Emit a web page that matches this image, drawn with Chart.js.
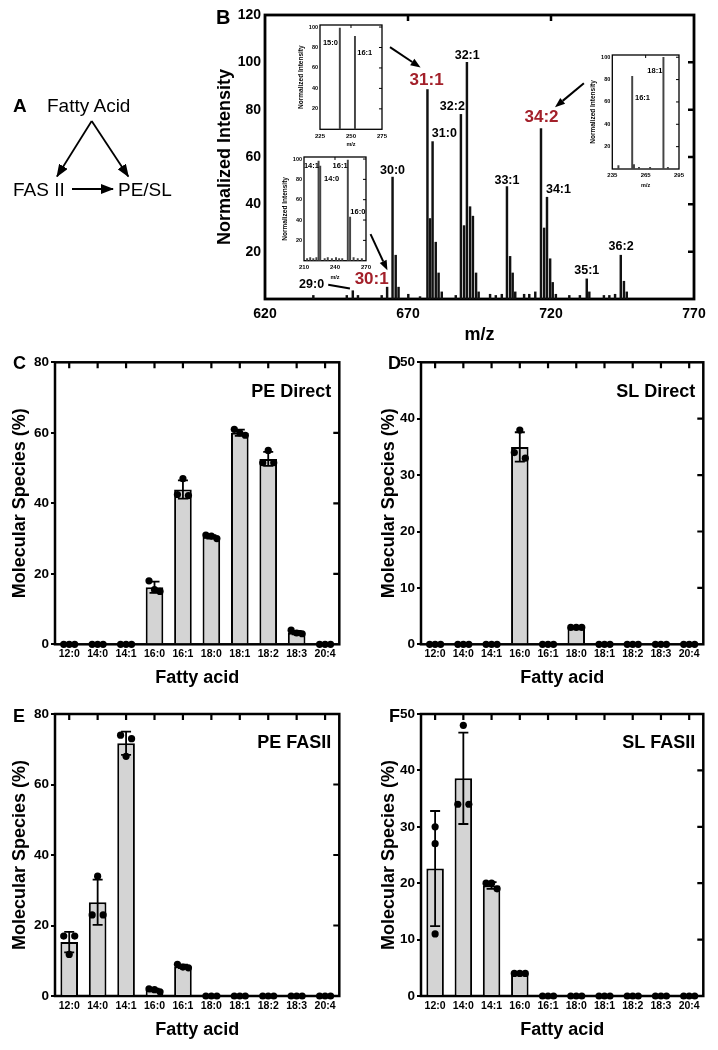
<!DOCTYPE html>
<html>
<head>
<meta charset="utf-8">
<script src="https://cdn.jsdelivr.net/npm/chart.js@4.4.1/dist/chart.umd.min.js"></script>
<style>
body { margin: 0; background: #fff; }
#fig { position: relative; width: 718px; height: 1050px; overflow: hidden; font-family: 'Liberation Sans', Arial, Helvetica, sans-serif; }
canvas { position: absolute; }
#overlay { position: absolute; left: 0; top: 0; pointer-events: none; }
</style>
</head>
<body>
<div id="fig">
  <canvas id="specB" width="518" height="346" style="left:200px;top:0"></canvas>
  <canvas id="ins1" width="100" height="135" style="left:290px;top:18px"></canvas>
  <canvas id="ins2" width="100" height="135" style="left:274px;top:150px"></canvas>
  <canvas id="ins3" width="105" height="145" style="left:582px;top:48px"></canvas>
  <canvas id="peDirect" width="360" height="360" style="left:0;top:330px"></canvas>
  <canvas id="slDirect" width="358" height="360" style="left:360px;top:330px"></canvas>
  <canvas id="peFas" width="360" height="360" style="left:0;top:690px"></canvas>
  <canvas id="slFas" width="358" height="360" style="left:360px;top:690px"></canvas>

  <svg id="overlay" width="718" height="1050" font-family="'Liberation Sans', Arial, Helvetica, sans-serif">
    <defs>
      <marker id="ah" markerWidth="13" markerHeight="10" refX="12" refY="5" orient="auto" markerUnits="userSpaceOnUse">
        <path d="M0,0 L13,5 L0,10 Z" fill="#000"/>
      </marker>
    </defs>
    <!-- panel A -->
    <text x="13" y="112" font-size="19" font-weight="bold">A</text>
    <text x="47" y="112" font-size="19">Fatty Acid</text>
    <line x1="91.7" y1="121" x2="57" y2="176.5" stroke="#000" stroke-width="1.8" marker-end="url(#ah)"/>
    <line x1="91.7" y1="121" x2="128.3" y2="176.5" stroke="#000" stroke-width="1.8" marker-end="url(#ah)"/>
    <text x="13" y="196" font-size="19">FAS II</text>
    <line x1="72" y1="189" x2="113" y2="189" stroke="#000" stroke-width="1.8" marker-end="url(#ah)"/>
    <text x="118" y="196" font-size="19">PE/SL</text>
    <!-- panel letters -->
    <text x="216" y="24" font-size="20" font-weight="bold">B</text>
    <text x="13" y="369" font-size="18" font-weight="bold">C</text>
    <text x="388" y="369" font-size="18" font-weight="bold">D</text>
    <text x="13" y="722" font-size="18" font-weight="bold">E</text>
    <text x="389" y="722" font-size="18" font-weight="bold">F</text>
  </svg>
</div>

<script>
// ---------- Panel B: mass spectrum ----------
const specMz  = [636.9, 648.6, 650.7, 652.5, 660.8, 662.7, 664.6, 665.7, 666.7, 670.1,
                 674.2, 676.8, 677.7, 678.6, 679.7, 680.7, 681.8, 686.7, 688.5, 689.6,
                 690.6, 691.7, 692.7, 693.8, 694.7, 698.7, 700.7, 702.8, 704.6, 705.7,
                 706.6, 707.5, 710.6, 712.4, 714.5, 716.5, 717.6, 718.6, 719.7, 720.6,
                 721.7, 726.4, 730.1, 732.5, 733.4, 738.5, 740.4, 742.4, 744.4, 745.5, 746.5];
const specInt = [1.5, 1.5, 3.5, 1.5, 1.5, 5, 51.5, 18.5, 5, 2,
                 1, 88.5, 34, 66.5, 24, 11, 3, 1.5, 78, 31,
                 100, 39, 35, 11, 3, 2, 1.5, 2, 47.5, 18,
                 11, 3, 2, 2, 3, 72, 30, 43, 17, 7,
                 2, 1.5, 1.5, 8.5, 3, 1.5, 1.5, 2, 18.5, 7.5, 3];

// peak annotations (m/z, intensity anchors)
const tagText = ['29:0', '30:0', '31:0', '32:2', '32:1', '33:1', '34:1', '35:1', '36:2'];
const tagMz   = [636.3, 664.6, 682.7, 685.5, 690.7, 704.6, 722.6, 732.5, 744.5];
const tagY    = [6.0, 54.2, 69.8, 81.3, 103, 50.2, 46.4, 12.1, 22.2];
const hiText  = ['31:1', '34:2', '30:1'];
const hiMz    = [676.5, 716.7, 657.3];
const hiY     = [92.6, 76.8, 8.2];
const arrowFrom = [[663.7, 106.4], [731.5, 91.2], [656.9, 27.4]];
const arrowTo   = [[674.4, 97.8], [721.4, 81.0], [662.8, 12.1]];
const leader29  = [[642.1, 6.0], [649.7, 4.4]];

// insets
const ins1Mz  = [241.0, 253.2];
const ins1Int = [99, 91];
const ins1Tags = ['15:0', '16:1'];
const ins1TagMz = [233.4, 261.1];
const ins1TagY  = [84, 74.5];

const ins2Mz  = [213, 216, 219, 222, 224.1, 225.7, 230, 233, 237, 241, 244, 247, 252.4, 254.6, 258, 262, 266];
const ins2Int = [2, 3, 2, 3, 98, 93, 2, 3, 2, 3, 2, 2, 99, 43, 3, 2, 2];
const ins2Tags = ['14:1', '14:0', '16:1', '16:0'];
const ins2TagMz = [217.2, 236.7, 244.9, 262.1];
const ins2TagY  = [93.4, 80, 93.4, 47.5];

const ins3Mz  = [240.5, 252.9, 254.5, 259, 269, 281, 285];
const ins3Int = [3, 83, 4, 1.5, 1.5, 100, 1.5];
const ins3Tags = ['16:1', '18:1'];
const ins3TagMz = [262.2, 273.3];
const ins3TagY  = [63.2, 88];

// ---------- Panels C-F: fatty acid composition ----------
const fattyAcids = ['12:0', '14:0', '14:1', '16:0', '16:1', '18:0', '18:1', '18:2', '18:3', '20:4'];

const peDirectMean = [0, 0, 0, 16.2, 43.9, 30.5, 60.0, 52.6, 3.3, 0];
const peDirectSd   = [0, 0, 0, 1.6, 2.6, 0.5, 0.9, 2.0, 0.5, 0];
const peDirectReps = [[0,0,0], [0,0,0], [0,0,0], [18,15.5,15], [47,42.5,42.2],
                      [31,30.7,30], [61,60,59.3], [55,51.5,51.5], [4,3.2,3], [0,0,0]];

const slDirectMean = [0, 0, 0, 35.0, 0, 3.0, 0, 0, 0, 0];
const slDirectSd   = [0, 0, 0, 2.6, 0, 0.1, 0, 0, 0, 0];
const slDirectReps = [[0,0,0], [0,0,0], [0,0,0], [38,34,33], [0,0,0],
                      [3,3,3], [0,0,0], [0,0,0], [0,0,0], [0,0,0]];

const peFasMean = [15.3, 26.6, 71.7, 1.7, 8.4, 0, 0, 0, 0, 0];
const peFasSd   = [2.9, 6.4, 3.3, 0.4, 0.5, 0, 0, 0, 0, 0];
const peFasReps = [[17,17,11.8], [34,23,23], [74,73,68], [2,1.8,1.2], [9,8.2,8],
                   [0,0,0], [0,0,0], [0,0,0], [0,0,0], [0,0,0]];

const slFasMean = [22.6, 38.6, 19.6, 4.0, 0, 0, 0, 0, 0, 0];
const slFasSd   = [10.2, 8.1, 0.6, 0.1, 0, 0, 0, 0, 0, 0];
const slFasReps = [[30,27,11], [48,34,34], [20,20,19], [4,4,4], [0,0,0],
                   [0,0,0], [0,0,0], [0,0,0], [0,0,0], [0,0,0]];

// ---------- shared setup ----------
const FONT = "'Liberation Sans', Arial, Helvetica, sans-serif";
Chart.defaults.font.family = FONT;
Chart.defaults.color = '#000';
Chart.defaults.animation = false;

// box frame + mirrored inward ticks on top and right
const framePlugin = {
    id: 'frame',
    beforeDatasetsDraw(chart, args, opts) {
        const {ctx, chartArea: a} = chart;
        const xs = chart.scales.x, ys = chart.scales.y;
        ctx.save();
        ctx.strokeStyle = '#000';
        ctx.lineWidth = opts.tickWidth;
        ctx.beginPath();
        xs.ticks.forEach((t, i) => {
            const px = xs.getPixelForTick(i);
            if (px < a.left + 2 || px > a.right - 2) return;
            ctx.moveTo(px, a.top); ctx.lineTo(px, a.top + opts.len);
        });
        ys.ticks.forEach((t, i) => {
            const py = ys.getPixelForTick(i);
            if (py < a.top + 2 || py > a.bottom - 2) return;
            ctx.moveTo(a.right, py); ctx.lineTo(a.right - opts.len, py);
        });
        ctx.stroke();
        ctx.lineWidth = opts.width;
        ctx.strokeRect(a.left, a.top, a.right - a.left, a.bottom - a.top);
        ctx.restore();
    }
};

function arrow(ctx, x0, y0, x1, y1, head) {
    const ang = Math.atan2(y1 - y0, x1 - x0);
    const bx = x1 - head * Math.cos(ang), by = y1 - head * Math.sin(ang);
    ctx.beginPath(); ctx.moveTo(x0, y0); ctx.lineTo(bx, by); ctx.stroke();
    ctx.beginPath();
    ctx.moveTo(x1, y1);
    ctx.lineTo(bx + head * 0.38 * Math.sin(ang), by - head * 0.38 * Math.cos(ang));
    ctx.lineTo(bx - head * 0.38 * Math.sin(ang), by + head * 0.38 * Math.cos(ang));
    ctx.closePath(); ctx.fill();
}

// labels and arrows on the spectrum
const specNotes = {
    id: 'specNotes',
    afterDraw(chart) {
        const {ctx} = chart;
        const xs = chart.scales.x, ys = chart.scales.y;
        const px = v => xs.getPixelForValue(v), py = v => ys.getPixelForValue(v);
        ctx.save();
        ctx.textAlign = 'center'; ctx.textBaseline = 'middle';
        ctx.fillStyle = '#000';
        ctx.font = 'bold 12.5px ' + FONT;
        tagText.forEach((t, i) => ctx.fillText(t, px(tagMz[i]), py(tagY[i])));
        ctx.fillStyle = '#a3202a';
        ctx.font = 'bold 17px ' + FONT;
        hiText.forEach((t, i) => ctx.fillText(t, px(hiMz[i]), py(hiY[i])));
        ctx.strokeStyle = '#000'; ctx.fillStyle = '#000'; ctx.lineWidth = 2;
        arrowFrom.forEach((f, i) => arrow(ctx, px(f[0]), py(f[1]), px(arrowTo[i][0]), py(arrowTo[i][1]), 10));
        ctx.beginPath();
        ctx.moveTo(px(leader29[0][0]), py(leader29[0][1]));
        ctx.lineTo(px(leader29[1][0]), py(leader29[1][1]));
        ctx.stroke();
        ctx.restore();
    }
};

new Chart('specB', {
    type: 'bar',
    data: {
        datasets: [{
            data: specMz.map((m, i) => ({x: m, y: specInt[i]})),
            backgroundColor: '#111',
            barThickness: 1.8,
            borderWidth: 0
        }]
    },
    options: {
        responsive: false,
        animation: false,
        layout: {padding: {left: 0, top: 15, right: 24, bottom: 0}},
        plugins: {legend: {display: false}, tooltip: {enabled: false}, frame: {width: 2.8, tickWidth: 2.5, len: 6}},
        scales: {
            x: {
                type: 'linear', min: 620, max: 770, offset: false,
                grid: {display: false, drawTicks: false, offset: false}, border: {display: false},
                ticks: {stepSize: 50, font: {size: 14, weight: 'bold'}, padding: 7},
                title: {display: true, text: 'm/z', font: {size: 18, weight: 'bold'}, padding: {top: 0, bottom: 0}},
                afterFit: s => { s.height = 47; }
            },
            y: {
                min: 0, max: 120,
                grid: {display: false, drawTicks: false}, border: {display: false},
                ticks: {stepSize: 20, font: {size: 14, weight: 'bold'}, padding: 4, callback: v => v === 0 ? '' : v},
                title: {display: true, text: 'Normalized Intensity', font: {size: 18, weight: 'bold'}, padding: {top: 14, bottom: 0}},
                afterFit: s => { s.width = 65; }
            }
        }
    },
    plugins: [framePlugin, specNotes]
});

function insetChart(id, mz, inten, xMin, xMax, xStep, tags, tMz, tY, lay) {
    const cv = document.getElementById(id);
    const notes = {
        id: 'insNotes',
        afterDraw(chart) {
            const {ctx} = chart;
            ctx.save();
            ctx.textAlign = 'center'; ctx.textBaseline = 'middle';
            ctx.font = 'bold 7.5px ' + FONT;
            ctx.fillStyle = '#000';
            tags.forEach((t, i) => ctx.fillText(t, chart.scales.x.getPixelForValue(tMz[i]), chart.scales.y.getPixelForValue(tY[i])));
            ctx.restore();
        }
    };
    new Chart(cv, {
        type: 'bar',
        data: {datasets: [{data: mz.map((m, i) => ({x: m, y: inten[i]})), backgroundColor: '#444', barThickness: 1.3, borderWidth: 0}]},
        options: {
            responsive: false,
            animation: false,
            layout: {padding: {left: 0, top: lay.T, right: lay.rp, bottom: 0}},
            plugins: {legend: {display: false}, tooltip: {enabled: false}, frame: {width: 1.3, tickWidth: 1, len: 3}},
            scales: {
                x: {
                    type: 'linear', min: xMin, max: xMax, offset: false,
                    grid: {display: false, drawTicks: false, offset: false}, border: {display: false},
                    ticks: {stepSize: xStep, font: {size: 6, weight: 'bold'}, padding: 3},
                    title: {display: true, text: 'm/z', font: {size: 5.5, weight: 'bold'}, padding: {top: 0, bottom: lay.xtPad}},
                    afterFit: s => { s.height = lay.xh; }
                },
                y: {
                    min: 0, max: 102,
                    grid: {display: false, drawTicks: false}, border: {display: false},
                    ticks: {stepSize: 20, includeBounds: false, font: {size: 5.5, weight: 'bold'}, padding: 2, callback: v => v === 0 ? '' : v},
                    title: {display: true, text: 'Normalized Intensity', font: {size: 6.5, weight: 'bold'}, padding: {top: lay.ytPad, bottom: 0}},
                    afterFit: s => { s.width = lay.L; }
                }
            }
        },
        plugins: [framePlugin, notes]
    });
}

insetChart('ins1', ins1Mz, ins1Int, 225, 275, 25, ins1Tags, ins1TagMz, ins1TagY,
    {L: 30, T: 7, rp: 6.7, xh: 23.7, xtPad: 5, ytPad: 7.5});
insetChart('ins2', ins2Mz, ins2Int, 210, 270, 30, ins2Tags, ins2TagMz, ins2TagY,
    {L: 30, T: 7, rp: 6.3, xh: 24.3, xtPad: 4.6, ytPad: 7.8});
insetChart('ins3', ins3Mz, ins3Int, 235, 295, 30, ins3Tags, ins3TagMz, ins3TagY,
    {L: 30.3, T: 7, rp: 6.3, xh: 24, xtPad: 4.3, ytPad: 7.1});

// bar + SD + individual replicates
function barPanel(id, name, mean, sd, reps, yMax, yStep, lay) {
    const cv = document.getElementById(id);
    const W = cv.width, H = cv.height;
    const plotH = lay.B - lay.T;
    const tol = 9 * yMax / plotH;     // replicates closer than ~9px are spread sideways
    const unit = 5.5 / ((lay.R - lay.L) / fattyAcids.length);
    const dots = [];
    reps.forEach((r, i) => {
        const s = r.slice().sort((a, b) => b - a);
        const groups = [];
        let cur = [s[0]];
        for (let k = 1; k < s.length; k++) {
            if (cur[cur.length - 1] - s[k] < tol) cur.push(s[k]);
            else { groups.push(cur); cur = [s[k]]; }
        }
        groups.push(cur);
        groups.forEach(g => g.forEach((v, k) => {
            const off = g.length === 1 ? 0 : (g.length === 2 ? (k === 0 ? -1 : 1) : k - 1);
            dots.push({x: i + off * unit, y: v});
        }));
    });

    const errBars = {
        id: 'errBars',
        afterDatasetDraw(chart, args) {
            if (args.index !== 0) return;
            const {ctx} = chart, ys = chart.scales.y;
            const meta = chart.getDatasetMeta(0);
            ctx.save();
            ctx.strokeStyle = '#000'; ctx.lineWidth = 1.8;
            sd.forEach((s, i) => {
                if (!s) return;
                const x = meta.data[i].x;
                const hi = ys.getPixelForValue(mean[i] + s), lo = ys.getPixelForValue(Math.max(0, mean[i] - s));
                ctx.beginPath();
                ctx.moveTo(x, hi); ctx.lineTo(x, lo);
                ctx.moveTo(x - 5, hi); ctx.lineTo(x + 5, hi);
                ctx.moveTo(x - 5, lo); ctx.lineTo(x + 5, lo);
                ctx.stroke();
            });
            ctx.restore();
        },
        afterDraw(chart) {
            const {ctx, chartArea: a} = chart;
            ctx.save();
            ctx.font = 'bold 18px ' + FONT;
            ctx.textAlign = 'right'; ctx.textBaseline = 'middle';
            ctx.fillStyle = '#000';
            ctx.fillText(name, a.right - 8, a.top + 29.5);
            ctx.restore();
        }
    };

    new Chart(cv, {
        type: 'bar',
        data: {
            labels: fattyAcids,
            datasets: [
                {data: mean, backgroundColor: '#d4d4d4', borderColor: '#000', borderWidth: 2,
                 barPercentage: 0.62, categoryPercentage: 1, grouped: false, order: 2},
                {type: 'line', data: dots, xAxisID: 'xj', showLine: false, pointRadius: 3.6,
                 pointBackgroundColor: '#000', pointBorderWidth: 0, clip: false, order: 1}
            ]
        },
        options: {
            responsive: false,
            animation: false,
            layout: {padding: {left: 0, top: lay.T, right: W - lay.R, bottom: 0}},
            plugins: {legend: {display: false}, tooltip: {enabled: false}, frame: {width: 2.5, tickWidth: 2.2, len: 6}},
            scales: {
                x: {
                    grid: {display: false, drawTicks: false}, border: {display: false},
                    ticks: {font: {size: 10.5, weight: 'bold'}, padding: 4, autoSkip: false, maxRotation: 0},
                    title: {display: true, text: 'Fatty acid', font: {size: 18, weight: 'bold'}, padding: {top: 0, bottom: lay.xtPad}},
                    afterFit: s => { s.height = H - lay.B; }
                },
                xj: {type: 'linear', display: false, offset: false, min: -0.5, max: fattyAcids.length - 0.5},
                y: {
                    min: 0, max: yMax,
                    grid: {display: true, drawOnChartArea: false, drawTicks: true, tickLength: 4, color: '#000', lineWidth: 2},
                    border: {display: false},
                    ticks: {stepSize: yStep, font: {size: 13.5, weight: 'bold'}, padding: 2},
                    title: {display: true, text: 'Molecular Species (%)', font: {size: 18, weight: 'bold'}, padding: {top: lay.ytPad, bottom: 0}},
                    afterFit: s => { s.width = lay.L; }
                }
            }
        },
        plugins: [framePlugin, errBars]
    });
}

barPanel('peDirect', 'PE Direct', peDirectMean, peDirectSd, peDirectReps, 80, 20,
    {L: 55, T: 32.3, R: 339.3, B: 314.3, xtPad: 0.9, ytPad: 9.7});
barPanel('slDirect', 'SL Direct', slDirectMean, slDirectSd, slDirectReps, 50, 10,
    {L: 61, T: 32.3, R: 343.3, B: 314.3, xtPad: 0.9, ytPad: 18});
barPanel('peFas', 'PE FASII', peFasMean, peFasSd, peFasReps, 80, 20,
    {L: 55, T: 24, R: 339.3, B: 306, xtPad: 9.2, ytPad: 9.7});
barPanel('slFas', 'SL FASII', slFasMean, slFasSd, slFasReps, 50, 10,
    {L: 61, T: 24, R: 343.3, B: 306, xtPad: 9.2, ytPad: 18});
</script>
</body>
</html>
